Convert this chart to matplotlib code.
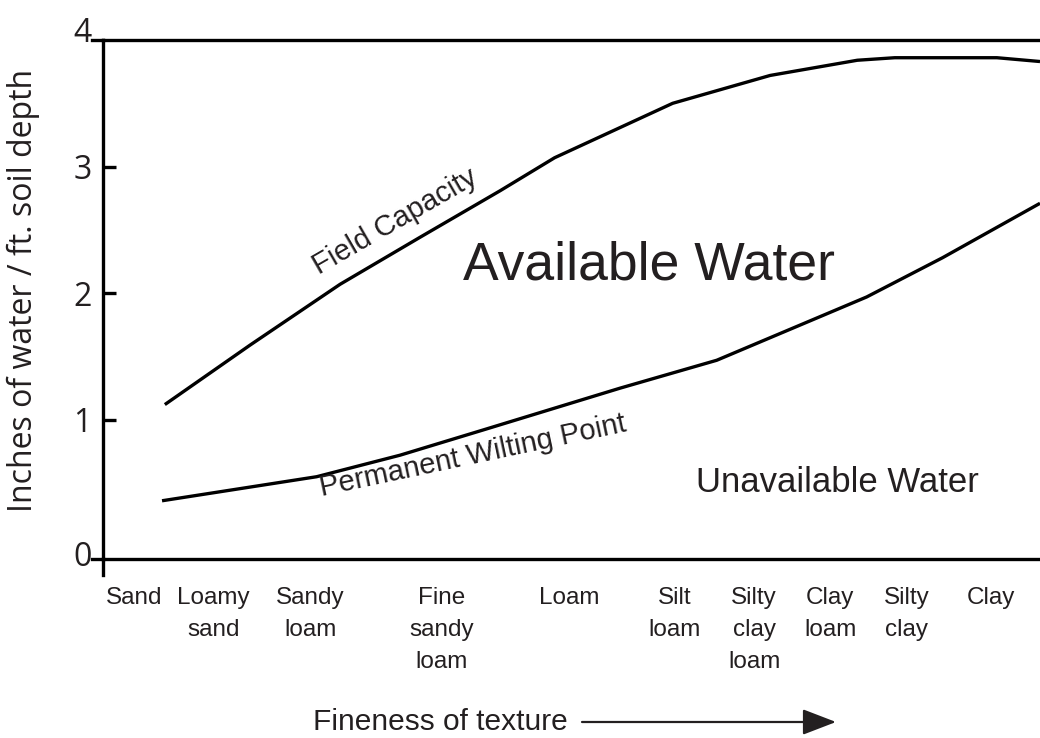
import matplotlib
matplotlib.use("Agg")
import matplotlib.pyplot as plt
from matplotlib.transforms import ScaledTranslation

plt.rcParams['font.family'] = ['Liberation Sans', 'DejaVu Sans']

# texture axis runs 0 (coarse) .. 10 (fine)
categories = ["Sand", "Loamy\nsand", "Sandy\nloam", "Fine\nsandy\nloam", "Loam",
              "Silt\nloam", "Silty\nclay\nloam", "Clay\nloam", "Silty\nclay", "Clay"]
category_pos = [0.33, 1.18, 2.21, 3.61, 4.98, 6.10, 6.95, 7.76, 8.58, 9.48]

# field capacity (inches of water / ft)
fc_x = [0.66, 1.57, 2.53, 3.38, 4.24, 4.82, 6.08, 7.12, 8.05, 8.45, 9.54, 10.0]
fc_y = [1.12, 1.59, 2.07, 2.44, 2.81, 3.07, 3.50, 3.72, 3.84, 3.86, 3.86, 3.83]

# permanent wilting point
pwp_x = [0.63, 2.28, 3.17, 4.06, 5.52, 6.55, 8.15, 8.96, 10.0]
pwp_y = [0.36, 0.55, 0.72, 0.92, 1.25, 1.47, 1.97, 2.28, 2.71]

ytick_vals = [0, 1, 2, 3, 4]

text_col = "#231f20"
lw = 2.4

fig = plt.figure(figsize=(10.4, 7.38), dpi=100)
ax = fig.add_axes([103 / 1040, (738 - 559) / 738, 937 / 1040, 519 / 738])
ax.set_xlim(0, 10)
ax.set_ylim(-0.1, 4.0)

ax.plot(fc_x, fc_y, color="black", lw=lw, solid_capstyle="butt", clip_on=False)
ax.plot(pwp_x, pwp_y, color="black", lw=lw, solid_capstyle="butt", clip_on=False)

# frame: left, bottom and top lines, right open
ax.spines["right"].set_visible(False)
for s in ["left", "bottom", "top"]:
    ax.spines[s].set_linewidth(lw)
    ax.spines[s].set_color("black")
ext_x = 11 / 937
ext_y = 16 / 519
ax.plot([0, 0], [0, -ext_y], transform=ax.transAxes, color="black", lw=lw, clip_on=False)
ax.plot([-ext_x, 0], [0, 0], transform=ax.transAxes, color="black", lw=lw, clip_on=False)
ax.plot([-ext_x, 0], [1, 1], transform=ax.transAxes, color="black", lw=lw, clip_on=False)

ax.set_yticks(ytick_vals)
ax.set_yticklabels([str(v) for v in ytick_vals], family=["Open Sans", "DejaVu Sans"],
                   fontsize=23, color=text_col)
ax.tick_params(axis="y", direction="in", length=9.5, width=lw, pad=8)
yt = ax.yaxis.get_major_ticks()
yt[0].tick1line.set_visible(False)
yt[-1].tick1line.set_visible(False)
labels = ax.get_yticklabels()
labels[-1].set_transform(labels[-1].get_transform() + ScaledTranslation(0, 10 / 100, fig.dpi_scale_trans))
labels[0].set_transform(labels[0].get_transform() + ScaledTranslation(0, -7 / 100, fig.dpi_scale_trans))

ax.set_xticks(category_pos)
ax.set_xticklabels(categories, fontsize=17.5, color=text_col, linespacing=1.6)
ax.tick_params(axis="x", length=0, pad=20)

ax.set_ylabel("Inches of water / ft. soil depth", family=["Open Sans", "DejaVu Sans"],
              fontsize=23, color=text_col)
ax.yaxis.set_label_coords(-(103 - 40) / 937, 0.518)

# region and curve labels
ax.text(3.16, 2.51, "Field Capacity", rotation=30, rotation_mode="anchor",
        ha="center", va="baseline", fontsize=21, color=text_col)
ax.text(3.97, 0.65, "Permanent Wilting Point", rotation=12, rotation_mode="anchor",
        ha="center", va="baseline", fontsize=21, color=text_col)
ax.text(5.83, 2.11, "Available Water", ha="center", va="baseline",
        fontsize=38.5, color=text_col)
ax.text(7.84, 0.43, "Unavailable Water", ha="center", va="baseline",
        fontsize=25, color=text_col)

# x-axis caption with arrow
fig.text(440 / 1040, 1 - 722 / 738, "Fineness of texture", ha="center", va="center",
         fontsize=21.5, color=text_col)
fig.patches.append(matplotlib.patches.FancyArrowPatch(
    (582 / 1040, 1 - 722 / 738), (836 / 1040, 1 - 722 / 738),
    transform=fig.transFigure, arrowstyle="-|>,head_length=1.3,head_width=0.5",
    mutation_scale=16, color=text_col, lw=1.6, shrinkA=0, shrinkB=0))

fig.savefig("out.png", dpi=100)
